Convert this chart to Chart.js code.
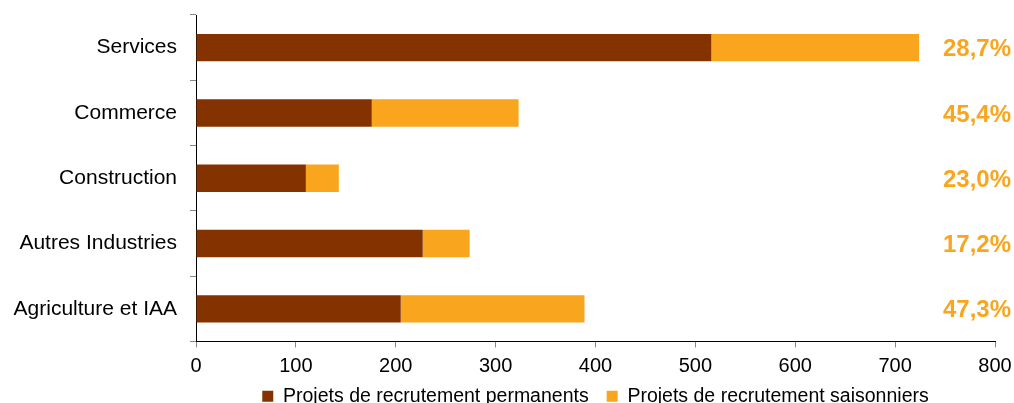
<!DOCTYPE html>
<html>
<head>
<meta charset="utf-8">
<script src="https://cdn.jsdelivr.net/npm/chart.js@4"></script>
<style>
  html, body { margin: 0; padding: 0; background: #fff; overflow: hidden; }
  #wrap { width: 1014px; height: 416px; position: relative; }
</style>
</head>
<body>
<div id="wrap"><canvas id="myChart"></canvas></div>
<script>
const categories = ['Services', 'Commerce', 'Construction', 'Autres Industries', 'Agriculture et IAA'];
const permanents = [516, 176, 110, 227, 205];
const saisonniers = [208, 147, 33, 47, 184];
const shareLabels = ['28,7%', '45,4%', '23,0%', '17,2%', '47,3%'];
const xTicks = [0, 100, 200, 300, 400, 500, 600, 700, 800];

const brown = '#843200';
const orange = '#F9A61E';
const font = '"Liberation Sans", Arial, sans-serif';

// percentages written at the right of every bar
const sharePlugin = {
    id: 'shares',
    afterLayout(chart) {
        // x axis box is kept short so the legend sits close; don't clip its labels
        chart.scales.x.bottom = chart.height;
    },
    afterDatasetsDraw(chart) {
        const ctx = chart.ctx;
        const y = chart.scales.y;
        ctx.save();
        ctx.font = 'bold 24px ' + font;
        ctx.fillStyle = orange;
        ctx.textAlign = 'right';
        ctx.textBaseline = 'middle';
        shareLabels.forEach((txt, i) => {
            ctx.fillText(txt, chart.width - 3, y.getPixelForValue(i) + 2);
        });
        ctx.restore();
    }
};

let ctx = document.getElementById('myChart').getContext('2d');
let chart = new Chart(ctx, {
    type: 'bar',
    data: {
        labels: categories,
        datasets: [{
            label: 'Projets de recrutement permanents',
            data: permanents,
            backgroundColor: brown,
        }, {
            label: 'Projets de recrutement saisonniers',
            data: saisonniers,
            backgroundColor: orange,
        }]
    },
    options: {
        indexAxis: 'y',
        responsive: true,
        maintainAspectRatio: false,
        animation: false,
        categoryPercentage: 1,
        barPercentage: 0.42,
        layout: { padding: { top: 15, right: 19, left: 6, bottom: 0 } },
        scales: {
            x: {
                stacked: true,
                min: 0,
                max: 800,
                afterBuildTicks: scale => { scale.ticks = xTicks.map(v => ({ value: v })); },
                afterFit: scale => {
                    scale.height = 27;
                    scale.paddingLeft = 0;
                    scale.paddingRight = 0;
                },
                border: { color: '#000', width: 1 },
                grid: { drawOnChartArea: false, color: '#888', tickLength: 6 },
                ticks: { color: '#000', font: { family: font, size: 20 }, padding: 7 },
            },
            y: {
                stacked: true,
                afterFit: scale => {
                    scale.width = 190;
                    scale.paddingTop = 0;
                    scale.paddingBottom = 0;
                },
                border: { color: '#000', width: 1 },
                grid: { drawOnChartArea: false, color: '#888', tickLength: 6 },
                ticks: { color: '#000', font: { family: font, size: 21 }, padding: 13 },
            }
        },
        plugins: {
            legend: {
                position: 'bottom',
                fullSize: false,
                labels: {
                    color: '#000',
                    font: { family: font, size: 19.5 },
                    boxWidth: 11,
                    boxHeight: 11,
                    padding: 18,
                }
            },
            tooltip: { enabled: false }
        }
    },
    plugins: [sharePlugin]
});
</script>
</body>
</html>
